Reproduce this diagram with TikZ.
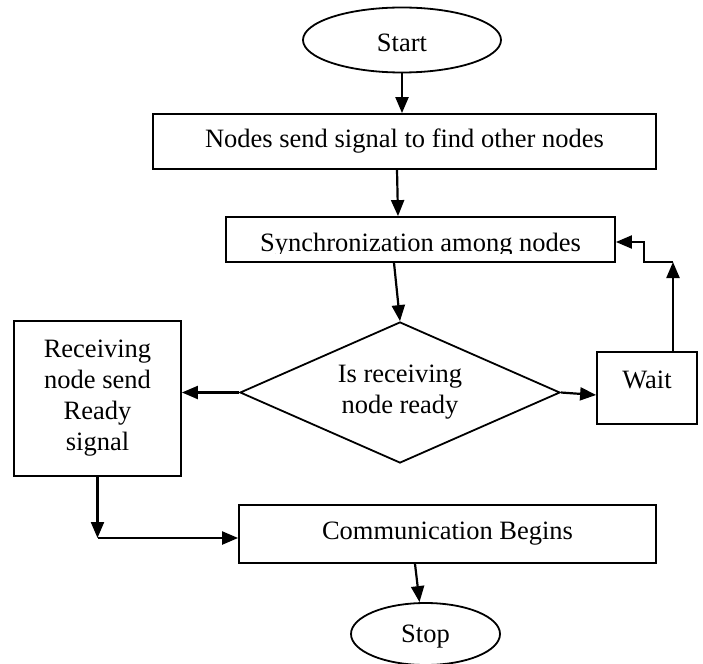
\documentclass[tikz,border=0pt]{standalone}
\usepackage{fontspec}
\setmainfont{Liberation Serif}
\usetikzlibrary{shapes.geometric,arrows.meta}
\begin{document}
\begin{tikzpicture}[x=1pt,y=-1pt,
  every node/.style={font=\fontsize{26.5}{31}\selectfont},
  box/.style={draw, line width=1.8pt, rectangle, inner sep=0pt, align=center},
  oval/.style={draw, line width=1.8pt, ellipse, inner sep=0pt},
  dec/.style={draw, line width=1.8pt, diamond, aspect=2.27, inner sep=0pt, align=center},
  arr/.style={line width=2.2pt, -{Triangle[length=16pt,width=13pt]}}]
\useasboundingbox (0,0) rectangle (703,663);
% nodes
\node[oval, minimum width=198pt, minimum height=65pt, text height=24pt] (start) at (402,40) {Start};
\node[box, minimum width=503pt, minimum height=55pt] (find) at (404.5,141.5) {Nodes send signal to find other nodes};
\node[box, minimum width=389pt, minimum height=45pt] (sync) at (420.5,239.5) {};
\begin{scope}
  \clip (226,217) rectangle (615,253);
  \node[anchor=base, inner sep=0pt] (synctext) at (420.5,251.5) {Synchronization among nodes};
\end{scope}
\node[dec, minimum width=320pt, minimum height=141pt] (ready) at (400,392.5) {Is receiving\\node ready};
\node[box, minimum width=167pt, minimum height=155pt] (recv) at (97.5,398.5) {Receiving\\node send\\Ready\\signal};
\node[box, minimum width=100pt, minimum height=72pt, text depth=16pt] (wait) at (647,388) {Wait};
\node[box, minimum width=417pt, minimum height=58pt] (comm) at (447.5,534) {Communication Begins};
\node[oval, minimum width=149pt, minimum height=62pt, text height=22pt] (stop) at (425.5,634) {Stop};
% connectors
\coordinate (c1) at (97.5,538);
\coordinate (c2) at (673,262);
\coordinate (c3) at (644,242);
\draw[arr] (start.south) -- (start.south |- find.north);
\draw[arr] ([xshift=-7.5pt]find.south) -- ([xshift=-22.5pt]sync.north);
\draw[arr] ([xshift=-26.5pt]sync.south) -- (ready.north);
\draw[arr] (ready.west) -- (ready.west -| recv.east);
\draw[arr] (ready.east) -- ([yshift=-7pt]wait.west);
\draw[arr] (recv.south) -- (c1);
\draw[arr] (c1) -- (c1 -| comm.west);
\draw[arr] ([xshift=-32.5pt]comm.south) -- ([xshift=-6pt]stop.north);
\draw[arr] (c2 |- wait.north) -- (c2);
\draw[arr] (c2) -| (c3) -- (c3 -| sync.east);
\end{tikzpicture}
\end{document}
